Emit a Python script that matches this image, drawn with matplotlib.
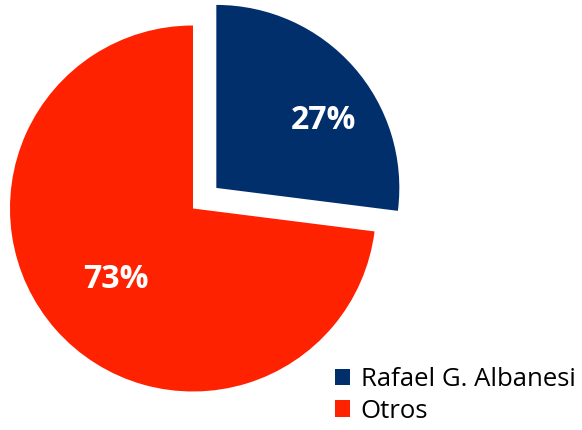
import numpy as np
import matplotlib
matplotlib.use('Agg')
import matplotlib.pyplot as plt

# datos del grafico
etiquetas = ['Rafael G. Albanesi', 'Otros']
valores = [27, 73]
colores = ['#002F6C', '#FF2200']
explotar = [0.17, 0]

plt.rcParams['font.family'] = ['Open Sans', 'DejaVu Sans']

fig = plt.figure(figsize=(5.82, 4.3), dpi=100)
ax = fig.add_axes([0, 0, 1, 1])

wedges, texts, autotexts = ax.pie(valores, colors=colores, explode=explotar,
                                  startangle=90, counterclock=False, radius=1,
                                  autopct='%d%%', pctdistance=0.6,
                                  textprops=dict(color='white', fontsize=23,
                                                 fontweight='bold'))

# mover las etiquetas dentro de cada porcion
dist = [0.70, 0.56]
giro = [-8, 0]
for w, t, d, g in zip(wedges, autotexts, dist, giro):
    ang = np.deg2rad((w.theta1 + w.theta2) / 2 + g)
    cx, cy = w.center
    t.set_position((cx + d * np.cos(ang), cy + d * np.sin(ang) - 0.015))

ax.set_aspect('equal')
ax.set_xlim(-1.0546, 2.1257)
ax.set_ylim(-1.2104, 1.1393)
ax.axis('off')

ax.legend(wedges, etiquetas, loc='lower right', bbox_to_anchor=(1.0, 0.0),
          bbox_transform=fig.transFigure, frameon=False, fontsize=18.5,
          handlelength=0.6, handleheight=0.6, handletextpad=0.4,
          labelspacing=0.25, borderpad=0.15, borderaxespad=0.1)

fig.savefig('out.png', dpi=100)
